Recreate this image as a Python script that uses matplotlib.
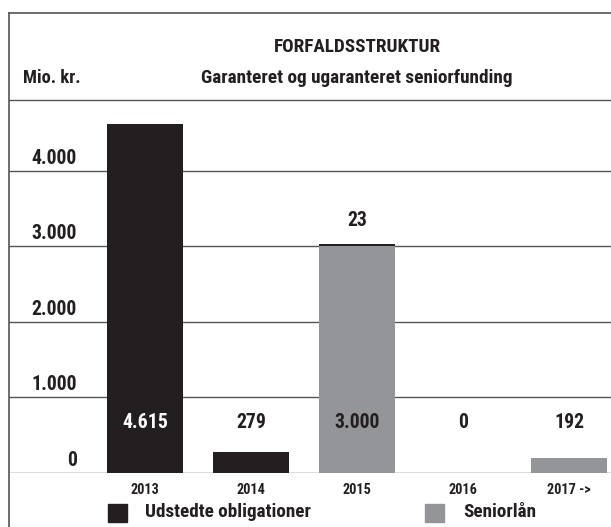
import matplotlib
matplotlib.use("Agg")
import matplotlib.pyplot as plt
from matplotlib import font_manager
from matplotlib.font_manager import FontProperties
from matplotlib.lines import Line2D
from matplotlib.patches import Rectangle
from matplotlib.transforms import ScaledTranslation

# data
years = ["2013", "2014", "2015", "2016", "2017 ->"]
obligationer = [4615, 279, 23, 0, 0]
seniorlaan = [0, 0, 3000, 0, 192]
y_ticks = [0, 1000, 2000, 3000, 4000]

title = "FORFALDSSTRUKTUR"
subtitle = "Garanteret og ugaranteret seniorfunding"
unit = "Mio. kr."
legend_labels = ["Udstedte obligationer", "Seniorlån"]

BLACK = "#231f20"
GREY = "#939598"
LINE = "#555555"


def fmt(v):
    return "{:,}".format(v).replace(",", ".")


# look for a narrow / condensed bold face, else plain bold DejaVu
def pick_font():
    prefs = ["RobotoCondensed-Bold", "NotoSans-CondensedBold", "OpenSans-CondensedBold",
             "OpenSans_Condensed-Bold", "LiberationSansNarrow-Bold", "DejaVuSansCondensed-Bold"]
    files = [f.fname for f in font_manager.fontManager.ttflist]
    for p in prefs:
        for fn in files:
            if fn.split("/")[-1].startswith(p + "."):
                return FontProperties(fname=fn)
    return FontProperties(family="DejaVu Sans", weight="bold")


FP = pick_font()

W, H = 611, 527
fig = plt.figure(figsize=(W / 100, H / 100), dpi=100)
renderer = fig.canvas.get_renderer()


def fit(s, width_px, grow=1.0):
    # font size (pt) that makes s about width_px wide
    t = fig.text(0, 0, s, fontproperties=FP, fontsize=10)
    w = t.get_window_extent(renderer).width
    t.remove()
    return 10 * width_px / w * grow


def fx(px):
    return px / W


def fy(py):
    return 1 - py / H


ax_top, ax_bot = 100, 473
ax = fig.add_axes([fx(9), fy(ax_bot), 1 - fx(9), (ax_bot - ax_top) / H])

x = list(range(len(years)))
bw = 76 / 106
ax.bar(x, seniorlaan, width=bw, color=GREY, zorder=2)
ax.bar(x, obligationer, width=bw, bottom=seniorlaan, color=BLACK, zorder=2)

px_per_unit = 75.6 / 1000
ax.set_ylim(0, (ax_bot - ax_top) / px_per_unit)
ax.set_xlim(-(145 - 9) / 106, (611 - 145) / 106)

for s in ["left", "right", "bottom"]:
    ax.spines[s].set_visible(False)
ax.spines["top"].set_color(LINE)
ax.spines["top"].set_linewidth(1.0)

num_size = fit("4.615", 40, 1.15)
year_size = fit("2013", 26, 1.12)

ax.set_yticks(y_ticks)
ax.set_yticklabels([fmt(v) for v in y_ticks], fontproperties=FP, fontsize=num_size, color=BLACK)
ax.yaxis.grid(True, color=LINE, linewidth=1.0, zorder=0)
ax.set_axisbelow(True)
ax.tick_params(axis="y", length=0, pad=-68 * 0.72)
for lab in ax.get_yticklabels():
    lab.set_horizontalalignment("right")
    lab.set_verticalalignment("center")
    lab.set_transform(lab.get_transform() + ScaledTranslation(0, 12.5 / 100, fig.dpi_scale_trans))

ax.set_xticks(x)
ax.set_xticklabels(years, fontproperties=FP, fontsize=year_size, color=BLACK)
ax.tick_params(axis="x", length=0, pad=7)

# value row
row_y = (ax_bot - 423) / (ax_bot - ax_top)
for i in x:
    v = seniorlaan[i] if seniorlaan[i] > 0 else obligationer[i]
    col = "white" if obligationer[i] > 1000 else BLACK
    ax.text(i, row_y, fmt(v), transform=ax.get_xaxis_transform(), ha="center",
            va="center", fontproperties=FP, fontsize=num_size, color=col, zorder=3)
    if seniorlaan[i] > 0 and obligationer[i] > 0:
        ax.annotate(fmt(obligationer[i]), (i, seniorlaan[i] + obligationer[i]),
                    xytext=(0, 17), textcoords="offset points", ha="center",
                    va="center", fontproperties=FP, fontsize=num_size, color=BLACK)

# titles (block is centred on the frame, which runs past the right edge)
fig.text(fx(357), fy(47), title, ha="center", va="center", fontproperties=FP,
         fontsize=fit(title, 151, 1.1), color=BLACK)
fig.text(fx(357), fy(78), subtitle, ha="center", va="center", fontproperties=FP,
         fontsize=fit(subtitle, 296, 1.05), color=BLACK)
fig.text(fx(23), fy(78), unit, ha="left", va="center", fontproperties=FP,
         fontsize=fit(unit, 54, 1.08), color=BLACK)

# frame
fig.add_artist(Line2D([fx(9), fx(9)], [fy(13), 0], color=LINE, lw=1.2))
fig.add_artist(Line2D([fx(9), 1], [fy(13), fy(13)], color=LINE, lw=1.2))

# legend
leg_size = fit(legend_labels[0], 158, 1.05)
for (sx, tx), lab, col in zip([(108, 145), (425, 463)], legend_labels, [BLACK, GREY]):
    fig.add_artist(Rectangle((fx(sx), fy(522)), 19 / W, 18 / H, color=col))
    fig.text(fx(tx), fy(512), lab, ha="left", va="center", fontproperties=FP,
             fontsize=leg_size, color=BLACK)

fig.savefig("out.png", dpi=100)
